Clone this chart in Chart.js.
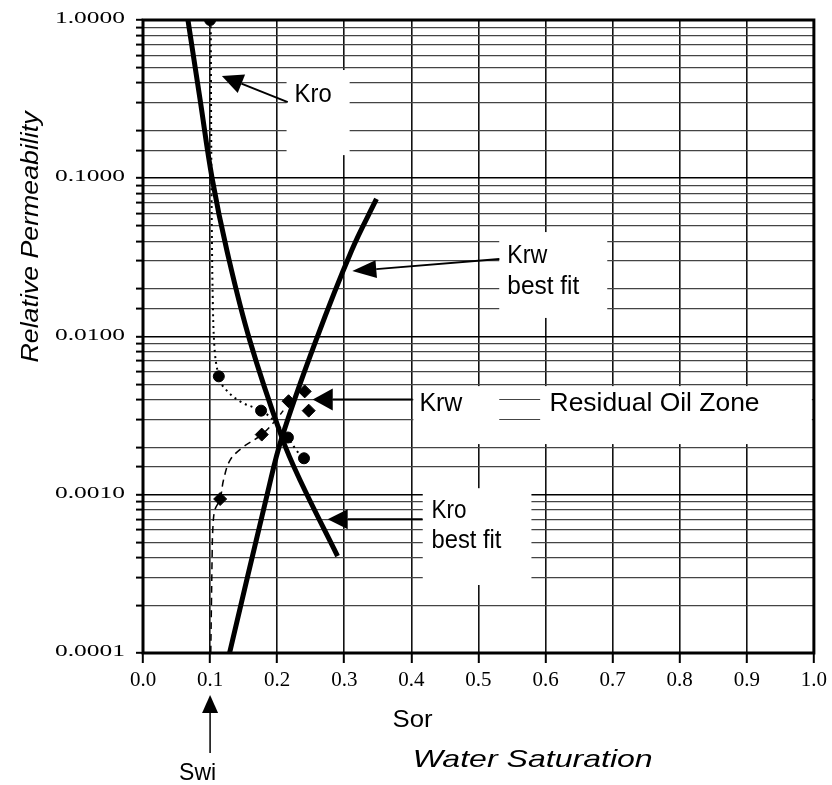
<!DOCTYPE html>
<html>
<head>
<meta charset="utf-8">
<script src="https://cdn.jsdelivr.net/npm/chart.js@4.4.1/dist/chart.umd.min.js"></script>
<style>
  html, body { margin: 0; padding: 0; background: #fff; }
  #wrap { width: 832px; height: 785px; }
</style>
</head>
<body>
<div id="wrap"><canvas id="myChart" width="832" height="785"></canvas></div>
<script>
// water saturation (x) vs relative permeability (y, log)
const satTickLabels = ['0.0', '0.1', '0.2', '0.3', '0.4', '0.5', '0.6', '0.7', '0.8', '0.9', '1.0']
const permTickLabels = ['1.0000', '0.1000', '0.0100', '0.0010', '0.0001']   // 10^0 .. 10^-4

// best fit curves
const kroFitSw = [0.067, 0.085, 0.103, 0.125, 0.159, 0.207, 0.234, 0.290]
const kroFitK  = [1.0, 0.316, 0.1, 0.035, 0.0095, 0.0023, 0.00124, 0.00041]
const krwFitSw = [0.129, 0.185, 0.207, 0.258, 0.311, 0.348]
const krwFitK  = [0.0001, 0.001, 0.0023, 0.0095, 0.035, 0.074]

// lab points
const kroSw = [0.100, 0.113, 0.176, 0.216, 0.240]
const kroK  = [1.0, 0.0056, 0.0034, 0.0023, 0.0017]
const krwSw = [0.115, 0.177, 0.217, 0.241, 0.247]
const krwK  = [0.00094, 0.0024, 0.0039, 0.0045, 0.0034]

// hand drawn lines through the lab points (dotted Kro, dashed Krw)
const kroTraceSw = [0.101, 0.102, 0.104, 0.107, 0.113, 0.120, 0.144, 0.176, 0.193, 0.216, 0.229, 0.240]
const kroTraceK  = [1.0, 0.1, 0.017, 0.008, 0.0056, 0.0048, 0.0039, 0.0034, 0.0030, 0.0023, 0.0019, 0.0017]
const krwTraceSw = [0.101, 0.102, 0.103, 0.104, 0.107, 0.115, 0.120, 0.130, 0.149, 0.177, 0.199, 0.209]
const krwTraceK  = [0.0001, 0.0002, 0.0004, 0.0006, 0.0008, 0.00094, 0.00124, 0.00166, 0.0020, 0.0024, 0.0030, 0.0034]

const pts = (xs, ys) => xs.map((v, i) => ({x: v, y: ys[i]}))

// white label boxes [x0, x1, yTop, yBottom] in data units
const boxes = [
  [0.214, 0.308, 0.483, 0.140],
  [0.531, 0.692, 0.0457, 0.0131],
  [0.403, 0.997, 0.00486, 0.00209],
  [0.417, 0.579, 0.00110, 0.000269]
]

// label text, left x, baseline y, width
const notes = [
  ['Kro', 0.226, 0.303, 37],
  ['Krw', 0.543, 0.0291, 40],
  ['best fit', 0.543, 0.0186, 72],
  ['Krw', 0.412, 0.00338, 43],
  ['Residual Oil Zone', 0.606, 0.00338, 210],
  ['Kro', 0.430, 0.000713, 35],
  ['best fit', 0.430, 0.000461, 70]
]

// arrows: from (x, y) to tip (x, y)
const arrows = [
  [0.2158, 0.303, 0.1176, 0.443, 21, 10],
  [0.5312, 0.0309, 0.312, 0.0259, 24, 9],
  [0.4018, 0.004, 0.2530, 0.004, 20, 11],
  [0.4167, 0.0007, 0.2753, 0.0007, 20, 10]
]

function fitText(ctx, text, x, y, font, width, align) {
  ctx.save()
  ctx.font = font
  const w = ctx.measureText(text).width
  const sx = width ? width / w : 1
  ctx.translate(x, y)
  ctx.scale(sx, 1)
  ctx.textAlign = 'left'
  let off = 0
  if (align === 'right') off = -w
  if (align === 'center') off = -w / 2
  ctx.fillText(text, off, 0)
  ctx.restore()
}

function arrow(ctx, fx, fy, tx, ty, len, half, lw) {
  const a = Math.atan2(ty - fy, tx - fx)
  const bx = tx - len * Math.cos(a), by = ty - len * Math.sin(a)
  ctx.lineWidth = lw
  ctx.beginPath()
  ctx.moveTo(fx, fy)
  ctx.lineTo(bx, by)
  ctx.stroke()
  ctx.beginPath()
  ctx.moveTo(tx, ty)
  ctx.lineTo(bx + half * Math.sin(a), by - half * Math.cos(a))
  ctx.lineTo(bx - half * Math.sin(a), by + half * Math.cos(a))
  ctx.closePath()
  ctx.fill()
}

const annotate = {
  id: 'annotate',
  beforeDatasetsDraw(chart) {
    const {ctx, scales: {x, y}} = chart
    ctx.save()
    ctx.fillStyle = '#fff'
    boxes.forEach(b => {
      const x0 = x.getPixelForValue(b[0]), x1 = x.getPixelForValue(b[1])
      const y0 = y.getPixelForValue(b[2]), y1 = y.getPixelForValue(b[3])
      ctx.fillRect(x0, y0, x1 - x0, y1 - y0)
    })
    // bits of grid left inside the residual oil zone box
    ctx.strokeStyle = '#444'
    ctx.lineWidth = 1.2
    ;[0.004, 0.003].forEach(v => {
      const py = Math.round(y.getPixelForValue(v)) + 0.5
      ctx.beginPath()
      ctx.moveTo(x.getPixelForValue(0.531), py)
      ctx.lineTo(x.getPixelForValue(0.592), py)
      ctx.stroke()
    })
    ctx.restore()
  },
  afterDatasetsDraw(chart) {
    const {ctx, chartArea, scales: {x, y}} = chart
    ctx.save()
    ctx.fillStyle = '#000'
    ctx.strokeStyle = '#000'
    ctx.textBaseline = 'alphabetic'
    notes.forEach(n => {
      fitText(ctx, n[0], x.getPixelForValue(n[1]), y.getPixelForValue(n[2]), '25px "Liberation Sans"', n[3])
    })
    arrows.forEach(a => {
      arrow(ctx, x.getPixelForValue(a[0]), y.getPixelForValue(a[1]),
            x.getPixelForValue(a[2]), y.getPixelForValue(a[3]), a[4], a[5], 2)
    })

    // frame
    ctx.lineWidth = 3
    ctx.strokeRect(chartArea.left, chartArea.top, chartArea.right - chartArea.left, chartArea.bottom - chartArea.top)

    // y tick labels, only the decades
    y.ticks.forEach(t => {
      const e = Math.log10(t.value)
      if (Math.abs(e - Math.round(e)) < 1e-6) {
        const lbl = permTickLabels[-Math.round(e)]
        fitText(ctx, lbl, chartArea.left - 18, y.getPixelForValue(t.value) + 3, '16px "Liberation Serif"', 70, 'right')
      }
    })

    // below the axis
    const b = chartArea.bottom
    const swi = x.getPixelForValue(0.1)
    arrow(ctx, swi, b + 100, swi, b + 42, 18, 8, 1.5)
    fitText(ctx, 'Swi', swi - 31, b + 127, '24px "Liberation Sans"', 37)
    fitText(ctx, 'Sor', x.getPixelForValue(0.372), b + 74, '24px "Liberation Sans"', 40)
    fitText(ctx, 'Water Saturation', x.getPixelForValue(0.402), b + 114, 'italic 24px "Liberation Sans"', 240)

    // y axis title
    ctx.save()
    ctx.translate(38, 237)
    ctx.rotate(-Math.PI / 2)
    fitText(ctx, 'Relative Permeability', 0, 0, 'italic 24px "Liberation Sans"', 251, 'center')
    ctx.restore()
    ctx.restore()
  }
}

const ctx = document.getElementById('myChart')

new Chart(ctx, {
  type: 'scatter',
  data: {
    datasets: [
      {
        label: 'Kro best fit',
        data: pts(kroFitSw, kroFitK),
        showLine: true,
        borderColor: '#000',
        borderWidth: 5,
        pointRadius: 0,
        tension: 0.4
      },
      {
        label: 'Krw best fit',
        data: pts(krwFitSw, krwFitK),
        showLine: true,
        borderColor: '#000',
        borderWidth: 5,
        pointRadius: 0,
        tension: 0.4
      },
      {
        label: 'Kro trace',
        data: pts(kroTraceSw, kroTraceK),
        showLine: true,
        borderColor: '#000',
        borderWidth: 2,
        borderDash: [2, 4],
        pointRadius: 0,
        tension: 0.35
      },
      {
        label: 'Krw trace',
        data: pts(krwTraceSw, krwTraceK),
        showLine: true,
        borderColor: '#000',
        borderWidth: 1.5,
        borderDash: [7, 5],
        pointRadius: 0,
        tension: 0.35
      },
      {
        label: 'Kro',
        data: pts(kroSw, kroK),
        pointStyle: 'circle',
        pointRadius: 5.5,
        backgroundColor: '#000',
        borderColor: '#000'
      },
      {
        label: 'Krw',
        data: pts(krwSw, krwK),
        pointStyle: 'rectRot',
        pointRadius: 6.5,
        backgroundColor: '#000',
        borderColor: '#000'
      }
    ]
  },
  options: {
    responsive: false,
    animation: false,
    layout: { padding: { top: 20, right: 17, left: 0, bottom: 0 } },
    plugins: {
      legend: { display: false },
      tooltip: { enabled: false }
    },
    scales: {
      x: {
        type: 'linear',
        min: 0,
        max: 1,
        ticks: {
          stepSize: 0.1,
          autoSkip: false,
          maxRotation: 0,
          padding: 5,
          color: '#000',
          font: { family: 'Liberation Serif', size: 21 },
          callback: (v, i) => satTickLabels[i]
        },
        grid: { color: '#111', lineWidth: 1.6, tickLength: 10, tickWidth: 2, tickColor: '#000' },
        border: { display: false },
        afterFit: s => { s.height = 132 }
      },
      y: {
        type: 'logarithmic',
        min: 0.0001,
        max: 1,
        ticks: { display: false, autoSkip: false },
        grid: {
          color: c => {
            const e = Math.log10(c.tick.value)
            return Math.abs(e - Math.round(e)) < 1e-6 ? '#000' : '#444'
          },
          lineWidth: c => {
            const e = Math.log10(c.tick.value)
            return Math.abs(e - Math.round(e)) < 1e-6 ? 1.6 : 1.2
          },
          tickLength: 7,
          tickWidth: 2,
          tickColor: '#000'
        },
        border: { display: false },
        afterFit: s => { s.width = 143 }
      }
    }
  },
  plugins: [annotate]
})
</script>
</body>
</html>
